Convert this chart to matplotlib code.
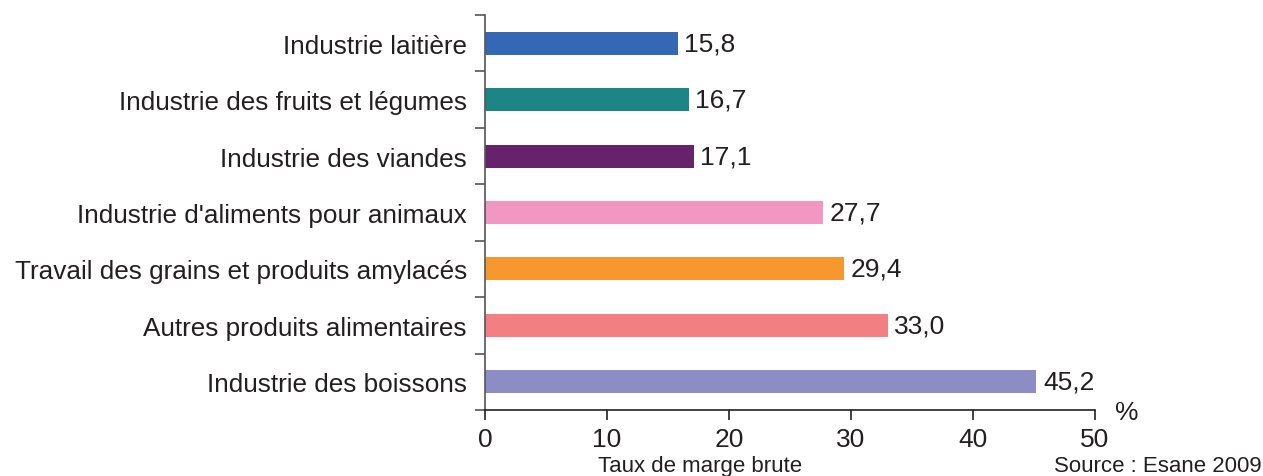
import matplotlib
matplotlib.use("Agg")
import matplotlib.pyplot as plt
import numpy as np

categories = ["Industrie laitière", "Industrie des fruits et légumes", "Industrie des viandes",
              "Industrie d'aliments pour animaux", "Travail des grains et produits amylacés",
              "Autres produits alimentaires", "Industrie des boissons"]
values = [15.8, 16.7, 17.1, 27.7, 29.4, 33.0, 45.2]
value_labels = ["15,8", "16,7", "17,1", "27,7", "29,4", "33,0", "45,2"]
colors = ["#3568B4", "#1D8583", "#66236B", "#F297C1", "#F7982F", "#F47F82", "#8D8DC6"]
xticks = [0, 10, 20, 30, 40, 50]

plt.rcParams['font.family'] = ['Liberation Sans', 'DejaVu Sans']

fig = plt.figure(figsize=(12.63, 4.77), dpi=100)
ax = fig.add_axes([485/1263, 1-411/477, (1095-485)/1263, (411-16)/477])

n = len(categories)
ypos = np.arange(n)
ax.barh(ypos, values, height=0.41, color=colors)
ax.set_ylim(n - 0.5, -0.5)
ax.set_xlim(0, 50)

for y, v, lab in zip(ypos, values, value_labels):
    ax.text(v + 0.55, y, lab, va='center', ha='left', fontsize=19, color='#231f20')

ax.set_yticks(np.arange(-0.5, n, 1))
ax.set_yticklabels([])
ax.set_yticks(ypos, minor=True)
ax.set_yticklabels(categories, minor=True, fontsize=18.8, color='#231f20')
ax.tick_params(axis='y', which='major', length=7, width=1.2, color='#555555', direction='out')
ax.tick_params(axis='y', which='minor', length=0, pad=13)

ax.set_xticks(xticks)
ax.set_xticklabels([str(t) for t in xticks], fontsize=19, color='#231f20')
ax.tick_params(axis='x', length=7, width=1.2, color='#231f20', direction='out', pad=5)

for s in ['top', 'right']:
    ax.spines[s].set_visible(False)
ax.spines['left'].set_color('#555555')
ax.spines['left'].set_linewidth(1.2)
ax.spines['bottom'].set_color('#231f20')
ax.spines['bottom'].set_linewidth(1.2)

fig.text(1127/1263, 1-413/477, "%", fontsize=19, ha='center', va='center', color='#231f20')
fig.text(700/1263, 1-467/477, "Taux de marge brute", fontsize=16, ha='center', va='center', color='#231f20')
fig.text(1262/1263, 1-467/477, "Source : Esane 2009", fontsize=16, ha='right', va='center', color='#231f20')

fig.savefig("out.png", dpi=100)
